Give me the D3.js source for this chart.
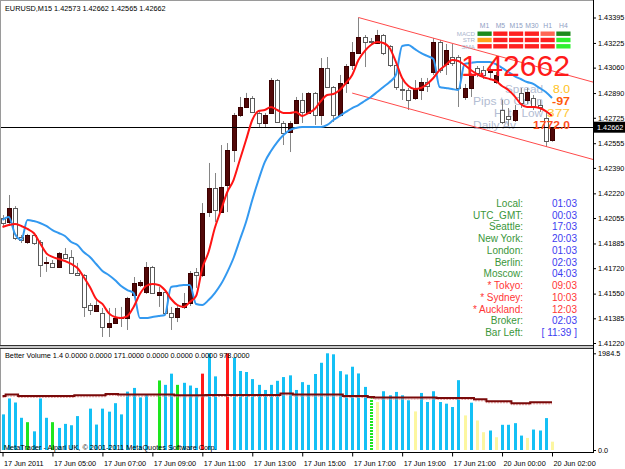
<!DOCTYPE html>
<html>
<head>
<meta charset="utf-8">
<script src="https://cdn.jsdelivr.net/npm/d3@7"></script>
<style>
  body { margin: 0; background: #fff; }
  svg { display: block; font-family: "Liberation Sans", Arial, sans-serif; }
</style>
</head>
<body>
<svg id="chart" width="625" height="469"></svg>
<script>
// EURUSD M15, bars from 17 Jun 03:00 to 20 Jun 02:00
const opens = [
  1.42055, 1.42029, 1.42122, 1.41928, 1.41895, 1.41942, 1.41895, 1.41755, 1.41755, 1.41728,
  1.41815, 1.41795, 1.41688, 1.41675, 1.41474, 1.41434, 1.41421, 1.41327, 1.41354, 1.41387,
  1.41387, 1.41541, 1.41608, 1.41561, 1.41728, 1.41541, 1.41561, 1.41421, 1.41394, 1.41461,
  1.41487, 1.41695, 1.41675, 1.42095, 1.42255, 1.42095, 1.42276, 1.42510, 1.42744, 1.42797,
  1.42857, 1.42757, 1.42690, 1.42757, 1.42977, 1.42690, 1.42630, 1.42690, 1.42844, 1.42757,
  1.42891, 1.42744, 1.43058, 1.42931, 1.42744, 1.42957, 1.43078, 1.43158, 1.43265, 1.43238,
  1.43225, 1.43278, 1.43205, 1.43078, 1.42917, 1.42911, 1.42857, 1.42911, 1.42964, 1.43031,
  1.43231, 1.43084, 1.43131, 1.43131, 1.42864, 1.42924, 1.43058, 1.43044, 1.43031, 1.42964,
  1.42777, 1.42737, 1.42710, 1.42891, 1.42844, 1.42857, 1.42810, 1.42723, 1.42573
]
const highs = [
  1.42075, 1.42209, 1.42135, 1.41942, 1.41949, 1.41955, 1.41908, 1.41795, 1.41775, 1.41828,
  1.41855, 1.41841, 1.41755, 1.41681, 1.41487, 1.41521, 1.41454, 1.41454, 1.41454, 1.41461,
  1.41528, 1.41661, 1.41641, 1.41761, 1.41735, 1.41594, 1.41574, 1.41461, 1.41467, 1.41554,
  1.41701, 1.41721, 1.42155, 1.42423, 1.42356, 1.42543, 1.42556, 1.42757, 1.42864, 1.42891,
  1.42870, 1.42770, 1.42757, 1.42991, 1.42984, 1.42703, 1.42703, 1.42864, 1.42891, 1.42897,
  1.42897, 1.43124, 1.43131, 1.42937, 1.43011, 1.43084, 1.43231, 1.43395, 1.43278, 1.43258,
  1.43312, 1.43285, 1.43211, 1.43091, 1.42977, 1.42924, 1.42977, 1.42991, 1.42991, 1.43258,
  1.43245, 1.43218, 1.43218, 1.43144, 1.42951, 1.43024, 1.43071, 1.43071, 1.43064, 1.43031,
  1.42844, 1.42790, 1.42810, 1.42924, 1.42924, 1.42877, 1.42844, 1.42757, 1.42662
]
const lows = [
  1.42002, 1.42015, 1.41908, 1.41888, 1.41882, 1.41875, 1.41661, 1.41695, 1.41721, 1.41721,
  1.41781, 1.41681, 1.41668, 1.41394, 1.41407, 1.41427, 1.41260, 1.41260, 1.41347, 1.41327,
  1.41307, 1.41528, 1.41594, 1.41548, 1.41548, 1.41461, 1.41414, 1.41307, 1.41360, 1.41447,
  1.41467, 1.41588, 1.41661, 1.42062, 1.42029, 1.42089, 1.42095, 1.42429, 1.42730, 1.42790,
  1.42757, 1.42657, 1.42657, 1.42750, 1.42690, 1.42543, 1.42496, 1.42683, 1.42690, 1.42750,
  1.42677, 1.42677, 1.42924, 1.42697, 1.42737, 1.42891, 1.43044, 1.43151, 1.43064, 1.43218,
  1.43218, 1.43144, 1.43064, 1.42911, 1.42844, 1.42777, 1.42844, 1.42844, 1.42897, 1.43011,
  1.43024, 1.43011, 1.43071, 1.42797, 1.42844, 1.42864, 1.42997, 1.42984, 1.42991, 1.42951,
  1.42683, 1.42670, 1.42697, 1.42790, 1.42817, 1.42777, 1.42764, 1.42530, 1.42565
]
const closes = [
  1.42022, 1.42122, 1.41922, 1.41908, 1.41942, 1.41888, 1.41741, 1.41761, 1.41728, 1.41821,
  1.41788, 1.41688, 1.41675, 1.41461, 1.41441, 1.41474, 1.41327, 1.41354, 1.41387, 1.41394,
  1.41521, 1.41621, 1.41628, 1.41728, 1.41554, 1.41561, 1.41421, 1.41394, 1.41454, 1.41487,
  1.41688, 1.41675, 1.42089, 1.42255, 1.42109, 1.42262, 1.42510, 1.42744, 1.42797, 1.42857,
  1.42764, 1.42690, 1.42744, 1.42977, 1.42697, 1.42623, 1.42690, 1.42844, 1.42764, 1.42891,
  1.42744, 1.43058, 1.42931, 1.42744, 1.42957, 1.43071, 1.43164, 1.43265, 1.43231, 1.43231,
  1.43278, 1.43158, 1.43078, 1.42931, 1.42911, 1.42844, 1.42924, 1.42964, 1.42937, 1.43231,
  1.43044, 1.43178, 1.43091, 1.42924, 1.42924, 1.43011, 1.43024, 1.43011, 1.43044, 1.43011,
  1.42697, 1.42717, 1.42777, 1.42824, 1.42897, 1.42804, 1.42797, 1.42570, 1.42662
]

// the two moving averages on the price chart
const redMA = [
  1.41995, 1.42008, 1.42015, 1.42002, 1.41982, 1.41955, 1.41888, 1.41821, 1.41795, 1.41781,
  1.41768, 1.41748, 1.41721, 1.41661, 1.41594, 1.41514, 1.41481, 1.41420, 1.41394, 1.41387,
  1.41400, 1.41461, 1.41547, 1.41601, 1.41614, 1.41608, 1.41574, 1.41514, 1.41474, 1.41461,
  1.41494, 1.41534, 1.41721, 1.41828, 1.41988, 1.42109, 1.42229, 1.42309, 1.42443, 1.42576,
  1.42710, 1.42770, 1.42777, 1.42797, 1.42777, 1.42757, 1.42757, 1.42764, 1.42737, 1.42757,
  1.42784, 1.42837, 1.42877, 1.42884, 1.42911, 1.42957, 1.43011, 1.43111, 1.43171, 1.43211,
  1.43231, 1.43225, 1.43191, 1.43098, 1.42991, 1.42937, 1.42917, 1.42924, 1.42951, 1.42991,
  1.43044, 1.43078, 1.43111, 1.43104, 1.43078, 1.43044, 1.43017, 1.42997, 1.42984, 1.42971,
  1.42937, 1.42911, 1.42870, 1.42817, 1.42797, 1.42797, 1.42790, 1.42770, 1.42737
]
const blueMA = [
  1.42042, 1.42062, 1.41948, 1.41908, 1.42042, 1.42035, 1.42022, 1.42002, 1.41975, 1.41955,
  1.41935, 1.41895, 1.41875, 1.41828, 1.41795, 1.41748, 1.41701, 1.41674, 1.41641, 1.41601,
  1.41574, 1.41554, 1.41387, 1.41387, 1.41394, 1.41400, 1.41407, 1.41594, 1.41601, 1.41608,
  1.41608, 1.41481, 1.41474, 1.41507, 1.41554, 1.41614, 1.41694, 1.41788, 1.41908, 1.42029,
  1.42176, 1.42309, 1.42429, 1.42503, 1.42563, 1.42610, 1.42643, 1.42657, 1.42663, 1.42663,
  1.42663, 1.42663, 1.42677, 1.42710, 1.42737, 1.42764, 1.42790, 1.42810, 1.42837, 1.42864,
  1.42897, 1.42931, 1.42964, 1.43011, 1.43205, 1.43211, 1.43185, 1.43158, 1.43138, 1.43118,
  1.42931, 1.42924, 1.42917, 1.42911, 1.43084, 1.43091, 1.43098, 1.43098, 1.43098, 1.43084,
  1.43058, 1.43031, 1.43004, 1.42984, 1.42964, 1.42951, 1.42924, 1.42897, 1.42857
]

// downward channel: [bar, price] end points
const channelUpper = [[57, 1.43395], [100, 1.42901]]
const channelLower = [[56, 1.42890], [100, 1.42384]]

const bid = 1.42662

// Better Volume window
const volumes = [
  731, 1058, 975, 661, 571, 383, 1058, 661, 571, 453,
  536, 508, 696, 1250, 849, 522, 849, 787, 961, 731,
  1198, 1274, 1079, 1149, 1300, 1427, 1337, 1567, 1337, 1379,
  1323, 1274, 1567, 1984.5, 1511, 1800, 1984.5, 1894, 1622, 1601,
  1455, 1337, 1232, 1337, 1420, 1497, 1532, 1232, 1393, 1337,
  1560, 1790, 1984.5, 1964, 1619, 1550, 1709, 1571, 1295, 1089,
  985, 1206, 1123, 1192, 1123, 1020, 792, 1171, 985, 1206,
  985, 951, 882, 1433, 710, 971, 606, 365, 400, 262,
  517, 517, 551, 296, 248, 420, 400, 655, 171
]
// b = normal, g = churn, r = climax, y = low volume, w = climax down (white), d = dotted churn
const volumeClass = [
  'b', 'b', 'b', 'b', 'g', 'b', 'b', 'b', 'g', 'b',
  'b', 'b', 'b', 'w', 'b', 'b', 'b', 'b', 'b', 'b',
  'b', 'b', 'b', 'b', 'w', 'g', 'b', 'b', 'g', 'b',
  'b', 'b', 'r', 'b', 'b', 'w', 'r', 'b', 'b', 'b',
  'b', 'b', 'b', 'b', 'b', 'b', 'b', 'b', 'b', 'b',
  'b', 'b', 'b', 'b', 'b', 'b', 'b', 'b', 'b', 'd',
  'y', 'b', 'b', 'b', 'b', 'b', 'y', 'b', 'b', 'b',
  'b', 'b', 'b', 'b', 'y', 'b', 'y', 'y', 'b', 'y',
  'b', 'b', 'b', 'b', 'y', 'b', 'b', 'b', 'y'
]
const volumeMA = [
  1109, 1137, 1137, 1109, 1109, 1109, 1109, 1109, 1109, 1109,
  1109, 1109, 1123, 1123, 1123, 1123, 1123, 1151, 1151, 1137,
  1137, 1137, 1137, 1137, 1137, 1137, 1137, 1137, 1123, 1123,
  1123, 1123, 1123, 1130, 1130, 1130, 1130, 1130, 1130, 1130,
  1130, 1130, 1130, 1130, 1130, 1158, 1158, 1137, 1137, 1137,
  1137, 1137, 1137, 1137, 1137, 1109, 1109, 1109, 1109, 1089,
  1075, 1075, 1075, 1075, 1075, 1075, 1075, 1075, 1075, 1075,
  1068, 1068, 1068, 1068, 1068, 1068, 1040, 1040, 1000, 1000,
  1000, 1000, 960, 960, 960, 978, 978, 978, 978
]
const volumeMax = 1984.5

const priceTicks = [1.43395, 1.43225, 1.43060, 1.42890, 1.42725, 1.42555, 1.42390,
  1.42220, 1.42055, 1.41885, 1.41720, 1.41550, 1.41385, 1.41220]
const timeTicks = [0, 8, 16, 24, 32, 40, 48, 56, 64, 72, 80, 88]
const timeLabels = ['17 Jun 2011', '17 Jun 05:00', '17 Jun 07:00', '17 Jun 09:00', '17 Jun 11:00',
  '17 Jun 13:00', '17 Jun 15:00', '17 Jun 17:00', '17 Jun 19:00', '17 Jun 21:00',
  '20 Jun 00:00', '20 Jun 02:00']

// signal panel
const timeframes = ['M1', 'M5', 'M15', 'M30', 'H1', 'H4']
const signalRows = ['MACD', 'STR', 'SMA']
const signalColors = [
  ['#1c8a1c', '#ff2020', '#ff2020', '#ff2020', '#ff6655', '#1c8a1c'],
  ['#ffa31a', '#ff2020', '#ff2020', '#ff2020', '#ff2020', '#2ef02e'],
  ['#ff2020', '#ff2020', '#ff2020', '#ff2020', '#ff2020', '#2ef02e']
]

const infoLabels = ['Spread', 'Pips to Open', 'Hi to Low', 'Daily Av']
const infoValues = ['8.0', '-97', '377', '1772.0']
const infoColors = ['#ffc21a', '#ff5a0a', '#ffc83c', '#ff4d1a']

const clockLabels = ['Local:', 'UTC_GMT:', 'Seattle:', 'New York:', 'London:', 'Berlin:',
  'Moscow:', '* Tokyo:', '* Sydney:', '* Auckland:', 'Broker:', 'Bar Left:']
const clockTimes = ['01:03', '00:03', '17:03', '20:03', '01:03', '02:03', '04:03',
  '09:03', '10:03', '12:03', '02:03', '[ 11:39 ]']
const clockAlert = [false, false, false, false, false, false, false, true, true, true, false, false]

const svg = d3.select('#chart')
const axisX = 593

// scales
const x = d3.scaleLinear().domain([0, 88]).range([2.5, 552])
const y = d3.scaleLinear().domain([1.41220, 1.43395]).range([343, 17.5])
const yv = d3.scaleLinear().domain([0, volumeMax]).range([450, 353.3])

svg.append('rect').attr('width', 625).attr('height', 469).attr('fill', '#fff')

svg.append('defs').append('clipPath').attr('id', 'mainClip')
  .append('rect').attr('x', 1).attr('y', 1).attr('width', axisX - 1).attr('height', 344)

const main = svg.append('g').attr('clip-path', 'url(#mainClip)')

const infoY = [93, 105, 117, 129]

// info labels sit behind the bars
main.selectAll('text.info').data(infoLabels).join('text')
  .attr('class', 'info')
  .attr('x', (d, i) => i === 3 ? 473 : 543)
  .attr('y', (d, i) => infoY[i])
  .attr('text-anchor', (d, i) => i === 3 ? 'start' : 'end')
  .attr('font-size', 10.6)
  .attr('textLength', (d, i) => [38, 70, 49, 43][i])
  .attr('lengthAdjust', 'spacingAndGlyphs')
  .attr('fill', '#b3bdd3')
  .text(d => d)

const bars = opens.map((o, i) => ({ i, o, h: highs[i], l: lows[i], c: closes[i] }))

// wicks
main.selectAll('line.wick').data(bars).join('line')
  .attr('class', 'wick')
  .attr('x1', d => Math.round(x(d.i)) + 0.5)
  .attr('x2', d => Math.round(x(d.i)) + 0.5)
  .attr('y1', d => y(d.h))
  .attr('y2', d => y(d.l))
  .attr('stroke', '#858585')
  .attr('stroke-width', 1)

// bodies
main.selectAll('rect.body').data(bars).join('rect')
  .attr('class', 'body')
  .attr('x', d => Math.round(x(d.i)) - 1.5)
  .attr('width', 4)
  .attr('y', d => Math.round(y(Math.max(d.o, d.c))) + 0.5)
  .attr('height', d => Math.max(0, Math.round(Math.abs(y(d.o) - y(d.c)))))
  .attr('fill', d => d.c > d.o ? '#520808' : '#fff')
  .attr('stroke', d => d.c > d.o ? '#3a0000' : '#5a5a5a')
  .attr('stroke-width', 1)

// bid line
main.append('line')
  .attr('x1', 0).attr('x2', axisX)
  .attr('y1', Math.round(y(bid)) + 0.5).attr('y2', Math.round(y(bid)) + 0.5)
  .attr('stroke', '#000')

// channel
const channelLine = d3.line().x(d => x(d[0])).y(d => y(d[1]))
;[channelUpper, channelLower].forEach(c => {
  main.append('path').attr('d', channelLine(c))
    .attr('fill', 'none').attr('stroke', '#ff4a4a').attr('stroke-width', 1)
})

// moving averages
const maLine = d3.line().x((d, i) => x(i)).y(d => y(d)).curve(d3.curveMonotoneX)
main.append('path').attr('d', maLine(blueMA))
  .attr('fill', 'none').attr('stroke', '#3399f0').attr('stroke-width', 2)
main.append('path').attr('d', maLine(redMA))
  .attr('fill', 'none').attr('stroke', '#ff1414').attr('stroke-width', 2)

// info values
main.selectAll('text.infoVal').data(infoValues).join('text')
  .attr('class', 'infoVal')
  .attr('x', 570)
  .attr('y', (d, i) => infoY[i])
  .attr('text-anchor', 'end')
  .attr('font-size', 10.6)
  .attr('textLength', (d, i) => [17, 18, 23, 37][i])
  .attr('lengthAdjust', 'spacingAndGlyphs')
  .attr('font-weight', (d, i) => i === 0 || i === 2 ? 'normal' : 'bold')
  .attr('fill', (d, i) => infoColors[i])
  .text(d => d)

// big price
main.append('text')
  .attr('x', 461).attr('y', 75.5)
  .attr('font-size', 30)
  .attr('textLength', 109)
  .attr('lengthAdjust', 'spacingAndGlyphs')
  .attr('fill', '#ff1a1a')
  .text(bid.toFixed(5))

// signal panel
const colX = d3.scaleBand().domain(timeframes).range([477.5, 570.5]).paddingInner(0.1)
const rowY = d3.scaleBand().domain(signalRows).range([31.5, 48.5]).paddingInner(0.3)
main.selectAll('text.tf').data(timeframes).join('text')
  .attr('class', 'tf')
  .attr('x', d => colX(d) + colX.bandwidth() / 2)
  .attr('y', 27.5)
  .attr('text-anchor', 'middle')
  .attr('font-size', 6.8)
  .attr('fill', '#8fa0c4')
  .text(d => d)
main.selectAll('text.sig').data(signalRows).join('text')
  .attr('class', 'sig')
  .attr('x', 475)
  .attr('y', d => rowY(d) + rowY.bandwidth())
  .attr('text-anchor', 'end')
  .attr('font-size', 6.2)
  .attr('fill', '#a9b4cc')
  .text(d => d)
const cells = signalRows.flatMap((r, ri) => timeframes.map((t, ti) => ({ r, t, c: signalColors[ri][ti] })))
main.selectAll('rect.cell').data(cells).join('rect')
  .attr('class', 'cell')
  .attr('x', d => colX(d.t))
  .attr('y', d => rowY(d.r))
  .attr('width', colX.bandwidth())
  .attr('height', rowY.bandwidth())
  .attr('fill', d => d.c)

// clocks
const clockY = d3.scalePoint().domain(d3.range(clockLabels.length)).range([207, 336])
main.selectAll('text.clockLabel').data(clockLabels).join('text')
  .attr('class', 'clockLabel')
  .attr('x', 523)
  .attr('y', (d, i) => clockY(i))
  .attr('text-anchor', 'end')
  .attr('font-size', 10)
  .attr('fill', (d, i) => clockAlert[i] ? '#ff3535' : '#3a963a')
  .text(d => d)
main.selectAll('text.clockTime').data(clockTimes).join('text')
  .attr('class', 'clockTime')
  .attr('x', 577)
  .attr('y', (d, i) => clockY(i))
  .attr('text-anchor', 'end')
  .attr('font-size', 10)
  .attr('fill', (d, i) => clockAlert[i] ? '#ff3535' : '#3c3cf0')
  .text(d => d)

// header
svg.append('text').attr('x', 5).attr('y', 11).attr('font-size', 7.3).attr('fill', '#000')
  .text('EURUSD,M15  1.42573 1.42662 1.42565 1.42662')

// price axis
svg.append('g')
  .attr('transform', `translate(${axisX},0)`)
  .call(d3.axisRight(y).tickValues(priceTicks).tickFormat(d3.format('.5f')).tickSize(3).tickPadding(2))
  .call(g => g.select('.domain').remove())
  .call(g => g.selectAll('text').attr('font-size', 7.3).attr('font-family', '"Liberation Sans", Arial, sans-serif'))

// bid marker on axis
svg.append('rect').attr('x', axisX + 1).attr('y', y(bid) - 5.5).attr('width', 31).attr('height', 11).attr('fill', '#000')
svg.append('text').attr('x', axisX + 4).attr('y', y(bid) + 3).attr('font-size', 7.3).attr('fill', '#fff')
  .text(bid.toFixed(5))

// volume window
const vol = svg.append('g')
const volBars = volumes.map((v, i) => ({ i, v, k: volumeClass[i] }))
const volColor = { b: '#14c0f5', g: '#1ee61e', r: '#ff1a1a', y: '#fcf6a0', w: '#ffffff', d: '#1ee61e' }
vol.selectAll('line.vbar').data(volBars).join('line')
  .attr('class', 'vbar')
  .attr('x1', d => Math.round(x(d.i)) + 0.5)
  .attr('x2', d => Math.round(x(d.i)) + 0.5)
  .attr('y1', yv(0))
  .attr('y2', d => yv(d.v))
  .attr('stroke', d => volColor[d.k])
  .attr('stroke-width', 3)
  .attr('stroke-dasharray', d => d.k === 'd' ? '2,1' : null)

const vmaLine = d3.line().x((d, i) => x(i)).y(d => yv(d)).curve(d3.curveStep)
vol.append('path').attr('d', vmaLine(volumeMA)).attr('transform', 'translate(0,1.5)')
  .attr('fill', 'none').attr('stroke', '#e89a9a').attr('stroke-width', 1).attr('stroke-dasharray', '2,1')
vol.append('path').attr('d', vmaLine(volumeMA))
  .attr('fill', 'none').attr('stroke', '#7a0a0a').attr('stroke-width', 2)

vol.append('text').attr('x', 5).attr('y', 358).attr('font-size', 7.3).attr('fill', '#000')
  .text('Better Volume 1.4 0.0000 0.0000 171.0000 0.0000 0.0000 0.0000 978.0000')
vol.append('text').attr('x', 4).attr('y', 450).attr('font-size', 7.3).attr('fill', '#000')
  .text('MetaTrader - Alpari UK, \u00a9 2001-2011 MetaQuotes Software Corp.')

svg.append('g')
  .attr('transform', `translate(${axisX},0)`)
  .call(d3.axisRight(yv).tickValues([volumeMax, 0]).tickFormat(d => d ? '1984.5' : '0.0').tickSize(3).tickPadding(2))
  .call(g => g.select('.domain').remove())
  .call(g => g.selectAll('text').attr('font-size', 7.3).attr('font-family', '"Liberation Sans", Arial, sans-serif'))

// time axis
svg.append('g')
  .attr('transform', 'translate(0,452.5)')
  .call(d3.axisBottom(x).tickValues(timeTicks).tickFormat((d, i) => timeLabels[i]).tickSize(4).tickPadding(4))
  .call(g => g.select('.domain').remove())
  .call(g => g.selectAll('text').attr('text-anchor', 'start').attr('x', 1)
    .attr('font-size', 7.3).attr('font-family', '"Liberation Sans", Arial, sans-serif'))

// frames
const frame = svg.append('g').attr('stroke-width', 1).attr('shape-rendering', 'crispEdges')
frame.append('line').attr('x1', 0.5).attr('x2', 0.5).attr('y1', 0).attr('y2', 453).attr('stroke', '#9a9a9a')
frame.append('line').attr('x1', 0).attr('x2', axisX).attr('y1', 0.5).attr('y2', 0.5).attr('stroke', '#9a9a9a')
frame.append('line').attr('x1', axisX + 0.5).attr('x2', axisX + 0.5).attr('y1', 0).attr('y2', 453).attr('stroke', '#000')
frame.append('rect').attr('x', 0).attr('y', 345).attr('width', axisX).attr('height', 3).attr('fill', '#c8c8c8').attr('stroke', 'none')
frame.append('line').attr('x1', 0).attr('x2', axisX).attr('y1', 345.5).attr('y2', 345.5).attr('stroke', '#333')
frame.append('line').attr('x1', 0).attr('x2', axisX).attr('y1', 348.5).attr('y2', 348.5).attr('stroke', '#333')
frame.append('line').attr('x1', 0).attr('x2', axisX + 1).attr('y1', 452.5).attr('y2', 452.5).attr('stroke', '#000')
</script>
</body>
</html>
